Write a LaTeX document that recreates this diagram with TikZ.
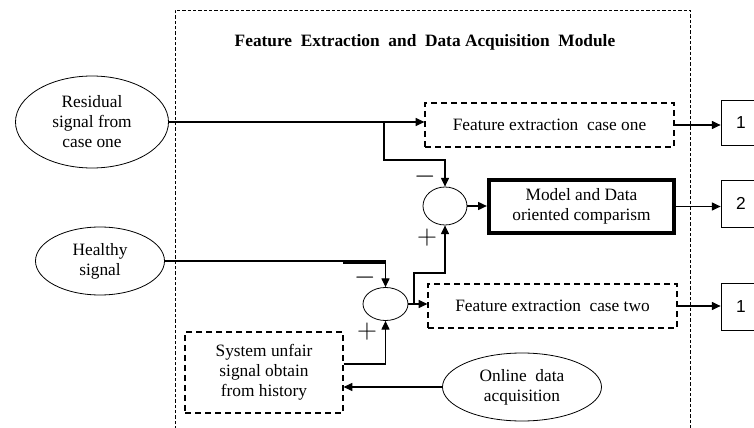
\documentclass[tikz,border=0pt]{standalone}
\usepackage{fontspec}
\setmainfont{Liberation Serif}
\newfontfamily\numfont{Liberation Sans}
\usetikzlibrary{arrows.meta,shapes.geometric}

\begin{document}
\begin{tikzpicture}[x=0.75pt,y=-0.75pt,line width=0.8pt,
    font=\fontsize{13}{15}\selectfont,
    arr/.style={-{Triangle[length=6.5pt,width=6pt]}},
    ellbox/.style={ellipse,draw,line width=0.6pt,align=center,inner sep=0pt},
    dashbox/.style={draw,dash pattern=on 4.5pt off 3pt,line width=0.9pt,align=center,inner sep=0pt},
    sumnode/.style={ellipse,draw,line width=0.6pt,inner sep=0pt},
    outbox/.style={draw,line width=0.6pt,minimum width=30pt,font=\numfont\fontsize{13}{15}\selectfont},
    signnode/.style={inner sep=0pt,font=\fontsize{21}{21}\selectfont}]
  \useasboundingbox (0,0) rectangle (754,428);
  \clip (0,0) rectangle (754,428);
  \draw[dash pattern=on 2.5pt off 1.5pt,line width=0.6pt] (175,440) -- (175,10) -- (690,10) -- (690,440);
  \node[font=\bfseries\fontsize{13}{15}\selectfont] (title) at (425,42) {Feature\ \ Extraction\ \ and\ \ Data Acquisition\ \ Module};

  \node[ellbox,minimum width=114.75pt,minimum height=69pt] (resid) at (92,122) {Residual\\signal from\\case one};
  \node[ellbox,minimum width=96.75pt,minimum height=51pt] (healthy) at (100,261) {Healthy\\signal};
  \node[ellbox,minimum width=119.25pt,minimum height=51pt] (online) at (522,387) {Online\ \ data\\acquisition};

  \node[dashbox,minimum width=186.75pt,minimum height=33pt] (caseone) at (549.5,125) {Feature extraction\ \ case one};
  \node[dashbox,minimum width=186.75pt,minimum height=33pt] (casetwo) at (552.5,306) {Feature extraction\ \ case two};
  \node[dashbox,minimum width=118.5pt,minimum height=60.75pt] (system) at (264,372.5) {System unfair\\signal obtain\\from history};
  \node[draw,line width=3pt,align=center,minimum width=139pt,minimum height=40pt] (model) at (581.5,206.5) {Model and Data\\oriented comparism};

  \node[sumnode,minimum width=33pt,minimum height=28.5pt] (sumA) at (445,206) {};
  \node[sumnode,minimum width=33.75pt,minimum height=24.75pt] (sumB) at (385.5,304) {};

  \node[outbox,minimum height=33.75pt] (out1) at (741,122.5) {1};
  \node[outbox,minimum height=35.25pt] (out2) at (741,203.5) {2};
  \node[outbox,minimum height=35.25pt] (out3) at (741,306.5) {1};

  \node[signnode] (minusA) at (425,177) {$-$};
  \node[signnode] (plusA) at (427,238) {$+$};
  \node[signnode] (minusB) at (365,278) {$-$};
  \node[signnode] (plusB) at (367,332) {$+$};

  \coordinate (brA) at (384,122);
  \coordinate (kneeA) at (384,160);
  \coordinate (brB) at (414,304);
  \coordinate (kneeB) at (414,273);

  \draw[arr] (resid.east) -- (resid.east -| caseone.west);
  \draw[arr] (brA) -- (kneeA) -| (sumA.north);
  \draw[arr] (sumA.east) -- (sumA.east -| model.west);
  \draw[arr] (caseone.east) -- (caseone.east -| out1.west);
  \draw[arr] (model.east) -- (model.east -| out2.west);
  \draw[arr] (casetwo.east) -- (casetwo.east -| out3.west);
  \draw[arr] (healthy.east) -| (sumB.north);
  \draw[line width=2.5pt] (343,262.5) -- (385,262.5);
  \draw[arr] ([yshift=6.4pt]system.east) -| (sumB.south);
  \draw[arr] (online.west) -- (online.west -| system.east);
  \draw[arr] (sumB.east) -- (sumB.east -| casetwo.west);
  \draw[arr] (brB) -- (kneeB) -| (sumA.south);
\end{tikzpicture}
\end{document}
